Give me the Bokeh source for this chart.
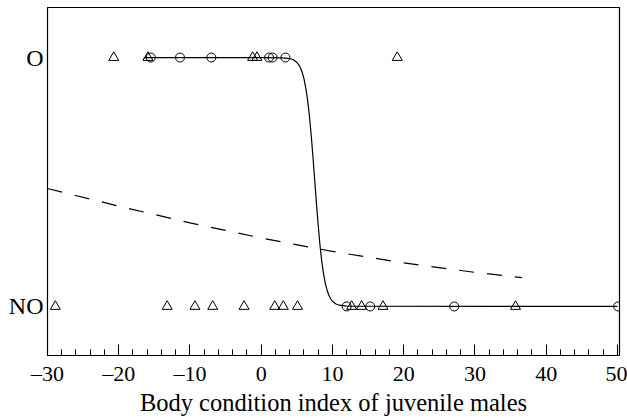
from bokeh.plotting import figure
from bokeh.models import Range1d, FixedTicker
from bokeh.embed import file_html
from bokeh.resources import INLINE

# Observed outcomes (O = 1, NO = 0) by body condition index
o_tri_x = [-20.7, -15.9, -1.2, -0.6, 19.1]
o_circ_x = [-15.5, -11.4, -7.0, 1.1, 1.6, 3.4]
no_tri_x = [-28.9, -13.2, -9.3, -6.8, -2.4, 1.9, 3.1, 5.1, 12.7, 14.1, 17.1, 35.7]
no_circ_x = [12.0, 15.3, 27.1, 50.1]

# Fitted curve (solid)
fit_x = [-16.5, 0.0, 3.0, 4.0, 4.5, 5.0, 5.25, 5.5, 5.75, 6.0, 6.25, 6.5, 6.75, 7.0,
         7.25, 7.5, 7.75, 8.0, 8.25, 8.5, 8.75, 9.0, 9.25, 9.5, 9.75, 10.0, 10.5,
         11.0, 12.0, 50.0]
fit_y = [1.0, 1.0, 0.999, 0.996, 0.991, 0.981, 0.972, 0.959, 0.941, 0.915, 0.879,
         0.832, 0.770, 0.694, 0.607, 0.512, 0.416, 0.326, 0.247, 0.182, 0.131,
         0.093, 0.065, 0.045, 0.031, 0.021, 0.010, 0.005, 0.001, 0.0]

# Second fitted curve (dashed)
dash_x = [-30, -20, -10, 0, 10, 20, 30, 36.6]
dash_y = [0.474, 0.403, 0.336, 0.275, 0.221, 0.175, 0.137, 0.116]

x_ticks = [-30, -20, -10, 0, 10, 20, 30, 40, 50]
x_tick_labels = ["\u201330", "\u201320", "\u201310", "0", "10", "20", "30", "40", "50"]
x_minor = list(range(-30, 51, 2))
y_ticks = [0, 1]
y_tick_labels = ["NO", "O"]

FONT = "Liberation Serif"

p = figure(width=627, height=418, output_backend="svg", toolbar_location=None,
           x_range=Range1d(-30, 50.3), y_range=Range1d(-0.197, 1.201),
           min_border_top=7, min_border_right=8, min_border_left=47, min_border_bottom=10)
p.xgrid.visible = False
p.ygrid.visible = False
p.outline_line_color = "black"
p.outline_line_width = 1.2
p.background_fill_color = "white"
p.border_fill_color = "white"

xa = p.xaxis[0]
xa.ticker = FixedTicker(ticks=x_ticks, minor_ticks=x_minor)
xa.major_label_overrides = {t: l for t, l in zip(x_ticks, x_tick_labels)}
xa.major_tick_in = 11
xa.major_tick_out = 0
xa.minor_tick_in = 6
xa.minor_tick_out = 0
xa.major_tick_line_color = "black"
xa.minor_tick_line_color = "black"
xa.axis_line_color = "black"
xa.major_label_text_font = FONT
xa.major_label_text_font_size = "22px"
xa.major_label_text_color = "black"
xa.major_label_standoff = 5
xa.axis_label = "Body condition index of juvenile males"
xa.axis_label_text_font = FONT
xa.axis_label_text_font_size = "24.5px"
xa.axis_label_text_font_style = "normal"
xa.axis_label_text_color = "black"
xa.axis_label_standoff = 0

ya = p.yaxis[0]
ya.ticker = FixedTicker(ticks=y_ticks, minor_ticks=[])
ya.major_label_overrides = {t: l for t, l in zip(y_ticks, y_tick_labels)}
ya.major_tick_in = 0
ya.major_tick_out = 0
ya.minor_tick_in = 0
ya.minor_tick_out = 0
ya.axis_line_color = "black"
ya.major_label_text_font = FONT
ya.major_label_text_font_size = "24px"
ya.major_label_text_color = "black"
ya.major_label_standoff = 4

p.line(fit_x, fit_y, line_color="black", line_width=1.2)
p.line(dash_x, dash_y, line_color="black", line_width=1.2, line_dash="15 13")

p.scatter(o_circ_x, [1] * len(o_circ_x), marker="circle", size=9,
          fill_alpha=0, line_color="black", line_width=1)
p.scatter(no_circ_x, [0] * len(no_circ_x), marker="circle", size=9,
          fill_alpha=0, line_color="black", line_width=1)
p.scatter(o_tri_x, [1] * len(o_tri_x), marker="triangle", size=10,
          fill_alpha=0, line_color="black", line_width=1)
p.scatter(no_tri_x, [0] * len(no_tri_x), marker="triangle", size=10,
          fill_alpha=0, line_color="black", line_width=1)

open("out.html", "w").write(file_html(p, INLINE))
